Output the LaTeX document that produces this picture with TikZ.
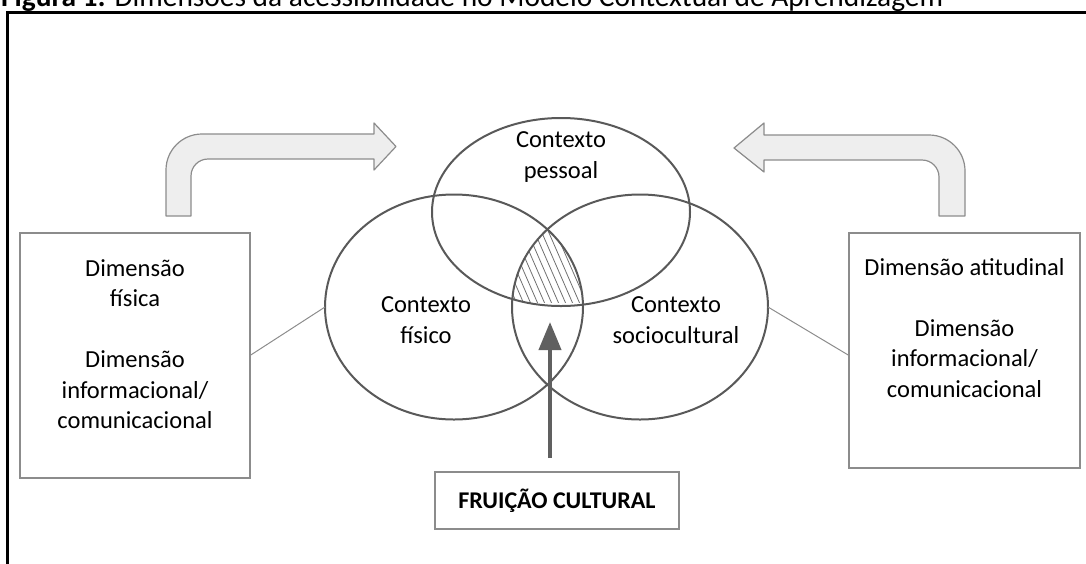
\documentclass[tikz,border=0pt]{standalone}
\usepackage{fontspec}
\usepackage{graphicx}
\setmainfont{Carlito}
\usetikzlibrary{shapes.geometric,arrows.meta,calc}
\definecolor{ellcol}{HTML}{595959}
\definecolor{boxcol}{HTML}{8C8C8C}
\definecolor{arrfill}{HTML}{EEEEEE}
\definecolor{arrline}{HTML}{8C8C8C}
\definecolor{bigarr}{HTML}{606060}
\definecolor{hatchcol}{HTML}{707070}
\begin{document}
\begin{tikzpicture}[x=1pt,y=-1pt,
  ctx/.style={draw=ellcol,line width=2pt,ellipse,inner sep=0pt,outer sep=0pt},
  txt/.style={align=center,font=\fontsize{24.5}{30.5}\selectfont,inner sep=0pt},
  dimbox/.style={draw=boxcol,line width=1.5pt,inner sep=0pt,outer sep=0pt},
  link/.style={draw=boxcol,line width=1pt},
  bent/.style={fill=arrfill,draw=arrline,line width=1.2pt,line join=round},
  hatch/.style={draw=hatchcol,line width=0.8pt},
]
\useasboundingbox (0,0) rectangle (1086,563);
\clip (0,0) rectangle (1086,563);

% caption (cut at the top, as in the reference)
\node[anchor=base west,inner sep=0pt] (cap) at (1,6.5)
  {\resizebox{942pt}{!}{\textbf{Figura 1:} Dimensões da acessibilidade no Modelo Contextual de Aprendizagem}};

% frame
\draw[line width=3pt] (7,570) -- (7,12) -- (1095,12);

% ellipses (positions)
\node[ctx,draw=none,minimum width=258pt,minimum height=188pt] (cp) at (561,212) {};
\node[ctx,draw=none,minimum width=258pt,minimum height=225pt] (cf) at (454,307) {};
\node[ctx,draw=none,minimum width=256pt,minimum height=225pt] (cs) at (640,307) {};

% hatched common region
\begin{scope}
  \clip (cp.center) ellipse [x radius=129pt, y radius=94pt];
  \clip (cf.center) ellipse [x radius=129pt, y radius=112.5pt];
  \clip (cs.center) ellipse [x radius=128pt, y radius=112.5pt];
  \clip (500,200) rectangle (600,302);
  \foreach \i in {0,...,30} \draw[hatch] (420+7*\i,210) -- ++(48,110);
\end{scope}

% draw ellipses
\draw[ellcol,line width=2pt] (cp.center) ellipse [x radius=129pt, y radius=94pt];
\draw[ellcol,line width=2pt] (cf.center) ellipse [x radius=129pt, y radius=112.5pt];
\draw[ellcol,line width=2pt] (cs.center) ellipse [x radius=128pt, y radius=112.5pt];

% texts in ellipses
\node[txt] (tp) at (561,157) {Contexto\strut\\pessoal\strut};
\node[txt] (tf) at (426,322) {Contexto\strut\\físico\strut};
\node[txt] (ts) at (676,322) {Contexto\strut\\sociocultural\strut};

% side boxes
\node[dimbox,minimum width=230pt,minimum height=245pt] (lbox) at (135,355.5) {};
\node[txt] (ltext) at (135,346.5) {Dimensão\strut\\física\strut\\\strut\\Dimensão\strut\\informacional/\strut\\comunicacional\strut};
\node[dimbox,minimum width=231pt,minimum height=235pt] (rbox) at (964.5,350.5) {};
\node[txt] (rtext) at (964.5,330) {Dimensão atitudinal\strut\\\strut\\Dimensão\strut\\informacional/\strut\\comunicacional\strut};

% connectors
\draw[link] (lbox.east) -- (cf.west);
\draw[link] (rbox.west |- lbox.east) -- (cs.east);

% fruição box and arrow
\node[dimbox,minimum width=244pt,minimum height=57pt,font=\bfseries\fontsize{24}{29}\selectfont] (fc) at (557,500.5) {FRUIÇÃO CULTURAL};
\coordinate (fs) at (550,458);
\coordinate (tipc) at (550,322);
\draw[bigarr,line width=4pt,-{Triangle[length=28pt,width=22pt]}] (fs) -- (tipc);

% bent arrows
\draw[bent] (166,216) -- (166,170) .. controls (166,150.1) and (182.1,134) .. (202,134)
  -- (374,134) -- (374,123) -- (396,146.5) -- (374,170) -- (374,159) -- (208,159)
  .. controls (198.6,159) and (191,166.6) .. (191,176) -- (191,216) -- cycle;
\draw[bent] (734,148) -- (764,123) -- (764,135) -- (929,135)
  .. controls (948.9,135) and (965,151.1) .. (965,171) -- (965,216) -- (939,216)
  -- (939,177) .. controls (939,167.6) and (931.4,160) .. (922,160) -- (764,160)
  -- (764,172) -- cycle;
\end{tikzpicture}
\end{document}
